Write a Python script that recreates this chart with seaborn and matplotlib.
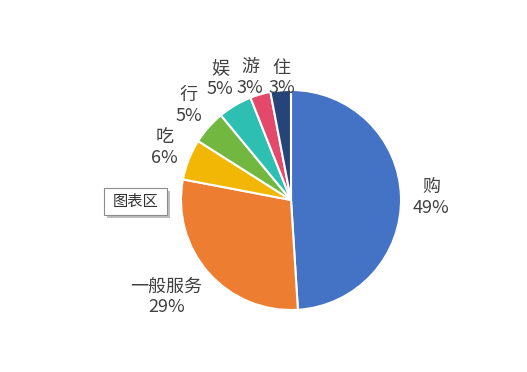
import numpy as np
import matplotlib
matplotlib.use("Agg")
import matplotlib.pyplot as plt
import seaborn as sns
from matplotlib.patches import Rectangle

categories = ["购", "一般服务", "吃", "行", "娱", "游", "住"]
values = [49, 29, 6, 5, 5, 3, 3]
pct_labels = ["49%", "29%", "6%", "5%", "5%", "3%", "3%"]
colors = ["#4472C4", "#ED7D31", "#F2B705", "#72B840", "#2DC0B2", "#E4486A", "#264478"]
# label offsets (pixels) from the wedge's outer edge midpoint
label_offsets = [(30, -1), (-42, -24), (-24, 12), (-20, 22), (-15, 27), (-10, 16.5), (1, 12.5)]

sns.set_theme(style="white")
plt.rcParams['font.family'] = ['Noto Sans CJK SC', 'DejaVu Sans']

fig = plt.figure(figsize=(5.27, 3.72), dpi=100)
fig.patch.set_facecolor("white")
W, H = 527, 372
cx, cy, r = 291, 200, 110
ax = fig.add_axes([(cx - r) / W, (H - cy - r) / H, 2 * r / W, 2 * r / H])

wedges, _ = ax.pie(values, colors=colors, startangle=90, counterclock=False,
                   wedgeprops=dict(edgecolor="white", linewidth=1.5))
ax.set_xlim(-1, 1)
ax.set_ylim(-1, 1)
ax.set_aspect("equal")
ax.axis("off")

for w, name, pct, off in zip(wedges, categories, pct_labels, label_offsets):
    ang = np.deg2rad((w.theta1 + w.theta2) / 2)
    x, y = np.cos(ang), np.sin(ang)
    ax.annotate(f"{name}\n{pct}", xy=(x, y), xytext=off, textcoords="offset pixels",
                ha="center", va="center", fontsize=13, color="#404040",
                linespacing=1.2, annotation_clip=False)

# "图表区" tooltip box with shadow
bx0, by0, bx1, by1 = 104, 188, 167, 215
fig.patches.append(Rectangle(((bx0 + 3) / W, (H - by1 - 3) / H), (bx1 - bx0) / W, (by1 - by0) / H,
                             transform=fig.transFigure, facecolor="#BDBDBD", edgecolor="none", zorder=5))
fig.patches.append(Rectangle((bx0 / W, (H - by1) / H), (bx1 - bx0) / W, (by1 - by0) / H,
                             transform=fig.transFigure, facecolor="white", edgecolor="#8C8C8C",
                             linewidth=0.8, zorder=6))
fig.text((bx0 + bx1) / 2 / W, (H - (by0 + by1) / 2) / H, "图表区", ha="center", va="center",
         fontsize=11, color="#333333", zorder=7)

fig.savefig("out.png", dpi=100, facecolor="white")
